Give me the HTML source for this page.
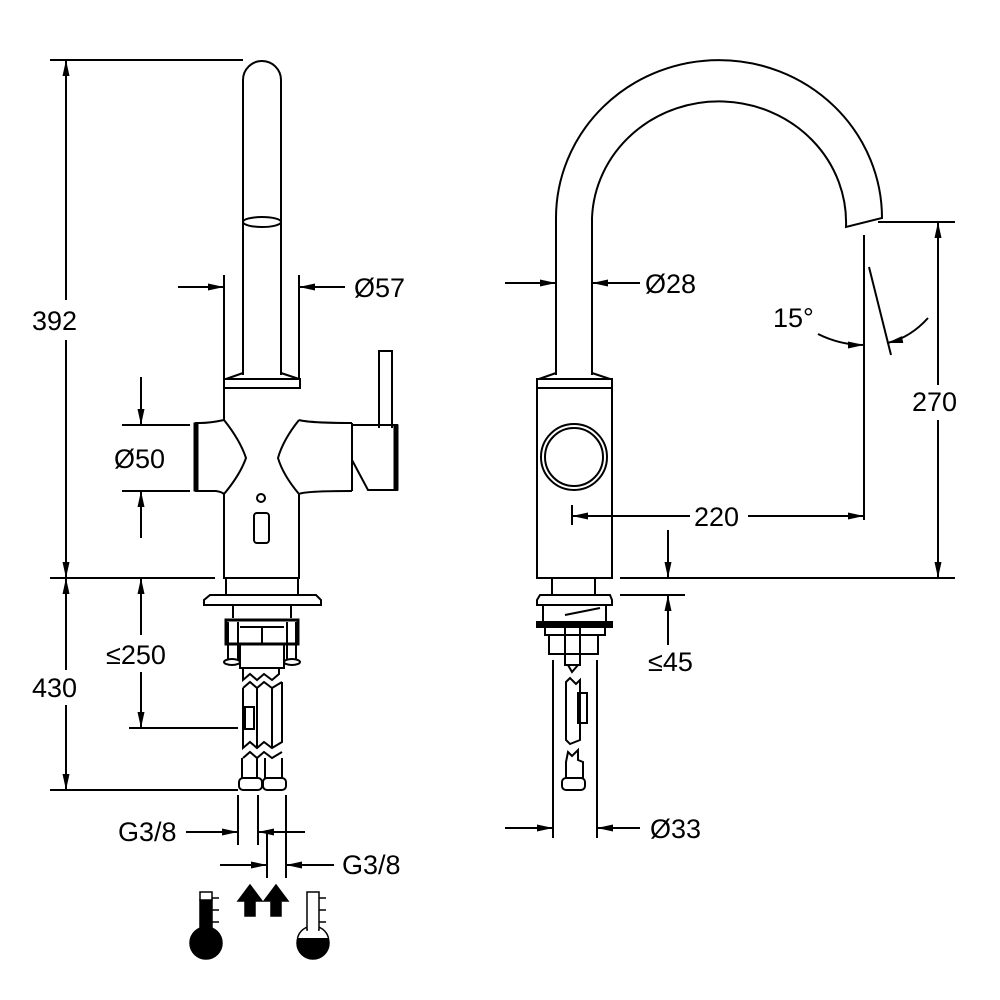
<!DOCTYPE html>
<html><head><meta charset="utf-8"><style>
html,body{margin:0;padding:0;background:#fff}
svg{display:block}
text{font-family:"Liberation Sans",sans-serif;font-size:27px;fill:#000}
</style></head><body>
<svg width="1000" height="1000" viewBox="0 0 1000 1000" xmlns="http://www.w3.org/2000/svg">
<defs>
<marker id="a" viewBox="0 0 16 7" refX="16" refY="3.5" markerWidth="16" markerHeight="7" markerUnits="userSpaceOnUse" orient="auto"><path d="M0,0L16,3.5L0,7z" fill="#000"/></marker>
</defs>
<g fill="none" stroke="#000" stroke-width="2">
<path d="M243,375 L243,80 A19,19 0 0 1 281,80 L281,375"/>
<ellipse cx="262" cy="222" rx="19" ry="5"/>
<path d="M243,373 L226,379 L299,379 L281,373 M224,379 L300,379 L300,388 L224,388 Z"/>
<path d="M224,388 L224,420 Q210,423 200,423 L196,423 L196,491 L216,491 Q222,492 224,494 L224,578 L299,578 L299,494 Q305,491 352,491 M299,420 Q310,423 352,423"/>
<path d="M224,420 Q240,440 246,458 Q240,475 224,494"/>
<path d="M299,420 Q283,440 278,458 Q283,475 299,494"/>
<rect x="194" y="423" width="4" height="68" fill="#000" stroke-width="1"/>
<path d="M352,423 L352,491 M352,425 L397,425 L397,490 L368,490 L352,460"/>
<rect x="394" y="425" width="4" height="65" fill="#000" stroke-width="1"/>
<path d="M379,428 L379,351 L392,351 L392,428"/>
<circle cx="261" cy="498" r="4"/>
<rect x="254" y="513" width="15" height="30" rx="3"/>
<path d="M226,578 L226,595 M298,578 L298,595"/>
<path d="M210,595 L316,595 L321,600 L321,605 L204,605 L204,600 Z"/>
<path d="M233,605 L233,618 M291,605 L291,618"/>
<path d="M226,620 L298,620 L298,644 L226,644 Z" stroke-width="3"/>
<path d="M228,622 L228,660 M238,622 L238,660 M287,622 L287,660 M296,622 L296,660"/>
<ellipse cx="232" cy="662" rx="8" ry="3"/><ellipse cx="292" cy="662" rx="8" ry="3"/>
<path d="M240,627 L284,627 M240,645 L240,668 L284,668 L284,645 M262,627 L262,645"/>
<path d="M243,668 L243,680 L250,674 L257,680 L264,674 L272,680 L279,674 L279,668"/>
<path d="M243,688 L250,682 L257,688 L264,682 L272,688 L282,682 M243,688 L243,748 L250,742 L257,748 L264,742 L272,748 L282,742 L282,682 M257,688 L257,748 M272,688 L272,748"/>
<rect x="245" y="707" width="9" height="22"/>
<path d="M243,758 L250,752 L257,758 L264,752 L272,758 L282,752"/>
<path d="M242,758 L242,778 M257,758 L257,778 M265,758 L265,778 M282,758 L282,778"/>
<rect x="239" y="778" width="23" height="12" rx="4"/><rect x="263" y="778" width="23" height="12" rx="4"/>
<path d="M50,60 L243,60 M50,578 L215,578 M50,790 L238,790"/>
<path d="M66,300 L66,60" marker-end="url(#a)"/>
<path d="M66,340 L66,578" marker-end="url(#a)"/>
<path d="M66,670 L66,578" marker-end="url(#a)"/>
<path d="M66,705 L66,790" marker-end="url(#a)"/>
<path d="M224,275 L224,380 M299,275 L299,380"/>
<path d="M178,287 L224,287" marker-end="url(#a)"/>
<path d="M345,287 L299,287" marker-end="url(#a)"/>
<path d="M122,425 L190,425 M122,491 L190,491"/>
<path d="M141,377 L141,425" marker-end="url(#a)"/>
<path d="M141,538 L141,491" marker-end="url(#a)"/>
<path d="M141,635 L141,578" marker-end="url(#a)"/>
<path d="M141,672 L141,728" marker-end="url(#a)"/>
<path d="M129,728 L238,728"/>
<path d="M238,795 L238,845 M258,795 L258,845 M267,830 L267,878 M286,795 L286,878"/>
<path d="M186,832 L238,832" marker-end="url(#a)"/>
<path d="M305,832 L258,832" marker-end="url(#a)"/>
<path d="M220,865 L267,865" marker-end="url(#a)"/>
<path d="M334,865 L286,865" marker-end="url(#a)"/>
<path d="M556,375 L556,218 A163,158 0 0 1 882,218 L846,227 A127,121 0 0 0 592,218 L592,375"/>
<path d="M556,373 L539,379 L610,379 L592,373 M537,379 L612,379 L612,388 L537,388 Z"/>
<path d="M537,388 L537,578 L612,578 L612,388"/>
<circle cx="574" cy="457" r="33"/><circle cx="574" cy="457" r="29"/>
<path d="M552,578 L552,595 M595,578 L595,595"/>
<path d="M540,595 L610,595 L612,600 L612,605 L537,605 L537,600 Z"/>
<path d="M543,605 L543,622 L606,622 L606,605 M565,615 L600,608"/>
<rect x="537" y="622" width="75" height="5" fill="#000"/>
<path d="M545,627 L605,627 L605,635 L598,635 L598,654 L549,654 L549,635 L545,635 Z M565,627 L565,665 L580,665 L580,627 M549,635 L598,635"/>
<path d="M568,665 L572,672 L578,665"/>
<path d="M566,682 L570,678 L576,684 L580,680 L580,740 L570,744 L566,740 Z"/>
<rect x="578" y="693" width="9" height="30"/>
<path d="M568,752 L572,756 L578,750 L578,760 L583,762 L583,778 L566,778 L566,762 Z"/>
<rect x="562" y="778" width="23" height="12" rx="4"/>
<path d="M553,660 L553,838 M597,660 L597,838"/>
<path d="M505,828 L553,828" marker-end="url(#a)"/>
<path d="M640,828 L597,828" marker-end="url(#a)"/>
<path d="M505,283 L556,283" marker-end="url(#a)"/>
<path d="M640,283 L592,283" marker-end="url(#a)"/>
<path d="M878,222 L955,222 M620,578 L955,578"/>
<path d="M938,385 L938,222" marker-end="url(#a)"/>
<path d="M938,420 L938,578" marker-end="url(#a)"/>
<path d="M864,235 L864,520 M869,267 L891,355"/>
<path d="M818,334 Q840,345 864,345" marker-end="url(#a)"/>
<path d="M928,318 Q910,338 887,343" marker-end="url(#a)"/>
<path d="M572,505 L572,525"/>
<path d="M690,516 L572,516" marker-end="url(#a)"/>
<path d="M748,516 L864,516" marker-end="url(#a)"/>
<path d="M620,595 L685,595"/>
<path d="M668,530 L668,578" marker-end="url(#a)"/>
<path d="M668,645 L668,595" marker-end="url(#a)"/>
</g>
<g fill="#000" stroke="#000" stroke-width="1.5">
<path d="M250,885 L238,901 L245,901 L245,916 L255,916 L255,901 L262,901 Z"/>
<path d="M276,885 L264,901 L271,901 L271,916 L281,916 L281,901 L288,901 Z"/>
<rect x="200" y="900" width="12" height="38"/>
<circle cx="206" cy="943" r="16"/>
<rect x="200" y="892" width="12" height="8" fill="#fff"/>
<path d="M212,898 L219,898 M212,910 L219,910 M212,922 L219,922" fill="none"/>
<circle cx="313" cy="943" r="16"/>
<rect x="296" y="924" width="34" height="14" fill="#fff" stroke="none"/>
<path d="M297.5,938 A16,16 0 0 1 328.5,938" fill="none"/>
<rect x="307" y="892" width="12" height="38" fill="#fff"/>
<rect x="308" y="926" width="10" height="12" fill="#fff" stroke="none"/>
<path d="M319,898 L326,898 M319,910 L326,910 M319,922 L326,922" fill="none"/>
</g>
<g>
<text x="32" y="330">392</text>
<text x="32" y="697">430</text>
<text x="114" y="468">Ø50</text>
<text x="106" y="664">≤250</text>
<text x="354" y="297">Ø57</text>
<text x="118" y="841" font-size="25">G3/8</text>
<text x="342" y="874" font-size="25">G3/8</text>
<text x="645" y="293">Ø28</text>
<text x="773" y="327">15°</text>
<text x="912" y="411">270</text>
<text x="694" y="526">220</text>
<text x="648" y="671" font-size="22">≤45</text>
<text x="650" y="838">Ø33</text>
</g>
</svg>
</body></html>
